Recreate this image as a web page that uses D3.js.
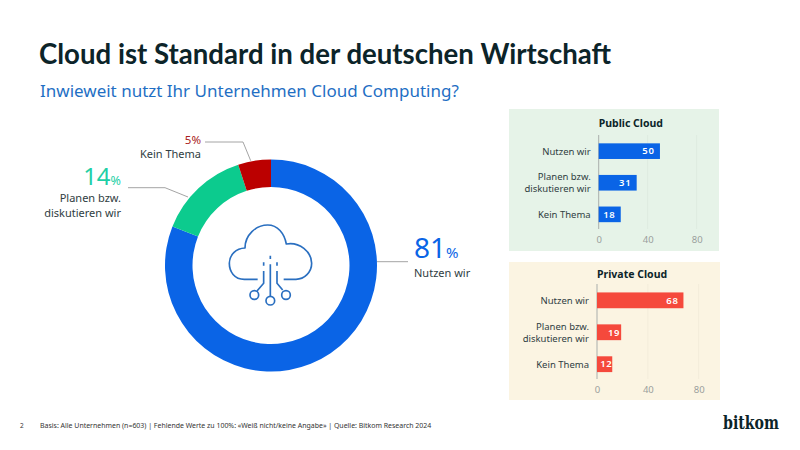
<!DOCTYPE html>
<html lang="de">
<head>
<meta charset="utf-8">
<script src="https://d3js.org/d3.v7.min.js"></script>
<style>
  html, body { margin: 0; padding: 0; background: #fff; }
  svg { display: block; }
  text { font-family: "Noto Sans", sans-serif; }
</style>
</head>
<body>
<div id="chart"></div>
<script>
// Data
const donutLabels = ["Nutzen wir", "Planen bzw. diskutieren wir", "Kein Thema"];
const donutValues = [81, 14, 5];
const donutColors = ["#0a64e6", "#0ccb8e", "#bb0000"];

const barCategories = ["Nutzen wir", "Planen bzw. diskutieren wir", "Kein Thema"];
const publicValues = [50, 31, 18];
const privateValues = [68, 19, 12];
const axisTicks = [0, 40, 80];

const width = 800;
const height = 450;
const darkText = "#0c2429";
const labelText = "#2f3d42";

const svg = d3.select("#chart").append("svg")
    .attr("width", width)
    .attr("height", height)
    .attr("viewBox", [0, 0, width, height]);

// Title block
svg.append("text")
    .attr("x", 39).attr("y", 64)
    .attr("font-size", 27.6).attr("font-weight", 700)
    .attr("style", "font-family:Lato,sans-serif")
    .attr("fill", darkText)
    .text("Cloud ist Standard in der deutschen Wirtschaft");

svg.append("text")
    .attr("x", 40).attr("y", 97)
    .attr("font-size", 17)
    .attr("fill", "#1f6fc4")
    .text("Inwieweit nutzt Ihr Unternehmen Cloud Computing?");

// Donut
const cx = 271, cy = 265.5;
const pie = d3.pie().sort(null).value(d => d);
const arc = d3.arc().innerRadius(78.5).outerRadius(106);

const donut = svg.append("g").attr("transform", `translate(${cx},${cy})`);
donut.selectAll("path")
    .data(pie(donutValues))
    .join("path")
    .attr("d", arc)
    .attr("fill", (d, i) => donutColors[i]);

// Leader lines
const leaders = [
    [[377, 261.7], [408, 261.7]],
    [[128, 187.7], [165, 187.7], [188, 197]],
    [[205, 142], [243, 142], [250.7, 160.7]]
];
svg.append("g").selectAll("path")
    .data(leaders)
    .join("path")
    .attr("d", d3.line())
    .attr("fill", "none")
    .attr("stroke", "#9a9a9a")
    .attr("stroke-width", 0.9);

// Donut labels
function pctLabel(x, y, anchor, value, color, size, pctSize) {
    const t = svg.append("text")
        .attr("x", x).attr("y", y)
        .attr("text-anchor", anchor)
        .attr("fill", color);
    t.append("tspan").attr("font-size", size).text(value);
    t.append("tspan").attr("font-size", pctSize).text("%");
}
function smallLabel(x, y, anchor, str) {
    svg.append("text")
        .attr("x", x).attr("y", y)
        .attr("text-anchor", anchor)
        .attr("font-size", 11)
        .attr("fill", labelText)
        .text(str);
}
pctLabel(414, 257.5, "start", donutValues[0], donutColors[0], 28, 15);
smallLabel(414, 277, "start", "Nutzen wir");
pctLabel(121, 185, "end", donutValues[1], "#1fcfa6", 24, 12.5);
smallLabel(121, 202, "end", "Planen bzw.");
smallLabel(121, 217, "end", "diskutieren wir");
pctLabel(201, 144, "end", donutValues[2], "#a82020", 11.5, 11.5);
smallLabel(201, 158, "end", "Kein Thema");

// Cloud icon, drawn in the 3x zoom coordinates of the reference
const icon = svg.append("g")
    .attr("transform", "translate(221,215) scale(0.3333)")
    .attr("fill", "none")
    .attr("stroke", "#2a6fc0")
    .attr("stroke-width", 5)
    .attr("stroke-linejoin", "round");
[
    "M110,193 L70,193 C40,193 25,170 25,145 C25,120 45,100 72,99 C72,60 105,30 140,30 C170,30 190,55 196,87 C235,80 272,110 272,145 C272,172 250,193 225,193 L188,193",
    "M148,122 V132 M148,148 V243",
    "M128,142 V152 M128,168 V205 L108,228",
    "M168,142 V152 M168,168 V205 L185,225"
].forEach(d => icon.append("path").attr("d", d));
[[100, 240], [148, 257], [195, 240]].forEach(c => {
    icon.append("circle").attr("cx", c[0]).attr("cy", c[1]).attr("r", 13);
});

// Small bar panels
function barPanel(cfg) {
    const g = svg.append("g");
    g.append("rect")
        .attr("x", cfg.x0).attr("y", cfg.y0)
        .attr("width", cfg.x1 - cfg.x0).attr("height", cfg.y1 - cfg.y0)
        .attr("fill", cfg.bg);

    g.append("text")
        .attr("x", cfg.zero).attr("y", cfg.titleY)
        .attr("font-size", 10.5).attr("font-weight", 700)
        .attr("fill", darkText)
        .text(cfg.title);

    const x = d3.scaleLinear().domain([0, 80]).range([cfg.zero, cfg.eighty]);
    const y = d3.scaleBand().domain(barCategories)
        .range([cfg.top, cfg.bottom])
        .paddingInner(0.505).paddingOuter(0.24).align(0.55);

    // faint grid lines
    g.append("g").selectAll("line")
        .data(axisTicks.slice(1))
        .join("line")
        .attr("x1", d => x(d)).attr("x2", d => x(d))
        .attr("y1", cfg.top).attr("y2", cfg.bottom)
        .attr("stroke", "#000").attr("stroke-opacity", 0.035);

    const axis = d3.axisBottom(x).tickValues(axisTicks).tickSize(0).tickPadding(7);
    const ax = g.append("g").attr("transform", `translate(0,${cfg.bottom})`).call(axis);
    ax.select(".domain").remove();
    ax.selectAll("text").attr("font-size", 9.5).attr("fill", "#9a9e9c");

    g.append("line")
        .attr("x1", x(0)).attr("x2", x(0))
        .attr("y1", cfg.top).attr("y2", cfg.bottom)
        .attr("stroke", "#a9aeac").attr("stroke-width", 1);

    g.selectAll("rect.bar")
        .data(cfg.values)
        .join("rect")
        .attr("class", "bar")
        .attr("x", x(0))
        .attr("y", (d, i) => y(barCategories[i]))
        .attr("width", d => x(d) - x(0))
        .attr("height", y.bandwidth())
        .attr("fill", cfg.color);

    g.selectAll("text.val")
        .data(cfg.values)
        .join("text")
        .attr("class", "val")
        .attr("x", (d, i) => x(d) - cfg.valuePad[i])
        .attr("y", (d, i) => y(barCategories[i]) + y.bandwidth() / 2 + 3.3)
        .attr("text-anchor", "end")
        .attr("font-size", 9.5).attr("font-weight", 600)
        .attr("letter-spacing", 0.6)
        .attr("fill", "#fff")
        .text(d => d);

    // Category labels, the long one breaks in two lines
    barCategories.forEach(c => {
        const lines = c.startsWith("Planen") ? ["Planen bzw.", "diskutieren wir"] : [c];
        const mid = y(c) + y.bandwidth() / 2;
        lines.forEach((l, j) => {
            g.append("text")
                .attr("x", x(0) - 8)
                .attr("y", mid + 3.5 + (j - (lines.length - 1) / 2) * 12)
                .attr("text-anchor", "end")
                .attr("font-size", 9.5)
                .attr("fill", labelText)
                .text(l);
        });
    });
}

barPanel({
    title: "Public Cloud", values: publicValues, color: "#0a64e6", bg: "#e6f3e8",
    x0: 509, x1: 719, y0: 109, y1: 251, zero: 598.7, eighty: 696.7,
    top: 135, bottom: 229, titleY: 127, valuePad: [5.5, 5.5, 5.5]
});
barPanel({
    title: "Private Cloud", values: privateValues, color: "#f5493c", bg: "#fbf4e2",
    x0: 509, x1: 720, y0: 262, y1: 400, zero: 597, eighty: 698.7,
    top: 284, bottom: 379, titleY: 278, valuePad: [5, 1, 0]
});

// Footer
svg.append("text")
    .attr("x", 20).attr("y", 428)
    .attr("font-size", 6.5).attr("fill", "#333")
    .text("2");
svg.append("text")
    .attr("x", 40).attr("y", 428)
    .attr("font-size", 6.96).attr("fill", "#333")
    .text("Basis: Alle Unternehmen (n=603) | Fehlende Werte zu 100%: «Weiß nicht/keine Angabe» | Quelle: Bitkom Research 2024");

svg.append("text")
    .attr("x", 723).attr("y", 429)
    .attr("font-size", 19).attr("font-weight", 700)
    .attr("style", "font-family:'DejaVu Serif',serif")
    .attr("fill", darkText)
    .attr("textLength", 56)
    .attr("lengthAdjust", "spacingAndGlyphs")
    .text("bitkom");
</script>
</body>
</html>
